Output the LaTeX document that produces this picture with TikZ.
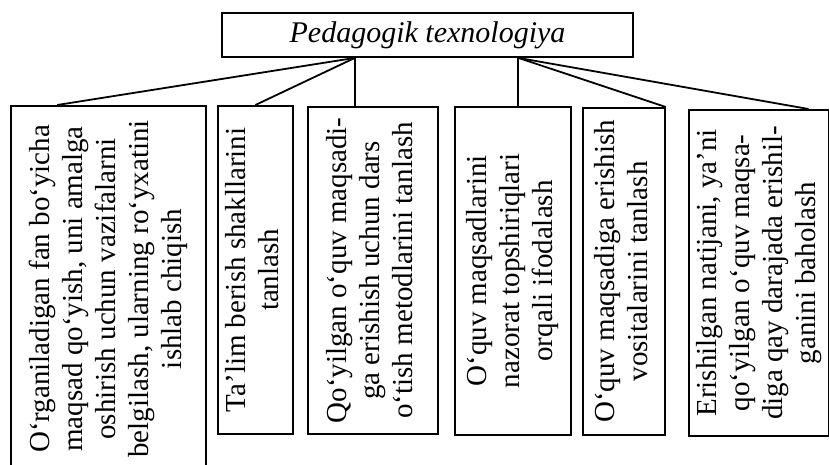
\documentclass[tikz,border=0pt]{standalone}
\usepackage{fontspec}
\setmainfont{Liberation Serif}
\usetikzlibrary{calc}

\newcommand{\vlines}[1]{\rotatebox{90}{\begin{tabular}{@{}c@{}}#1\end{tabular}}}

\begin{document}
\begin{tikzpicture}[
    x=1pt, y=-1pt,
    every node/.style={font=\fontsize{29}{33}\selectfont},
    title/.style={rectangle, draw, line width=1.8pt, minimum width=411pt, minimum height=44pt, inner sep=0pt, font=\fontsize{30}{34}\selectfont\itshape},
    stage/.style={rectangle, draw, line width=1.8pt, inner sep=0pt, anchor=north west},
    link/.style={line width=1.8pt},
]
\useasboundingbox (0,0) rectangle (829,464);

% Top
\node[title] (ped) at (427.5,35) {Pedagogik texnologiya};
\coordinate (lhub) at ($(ped.south west)!0.324!(ped.south east)$);
\coordinate (rhub) at ($(ped.south west)!0.72!(ped.south east)$);

% Bottom row
\node[stage, minimum width=195pt, minimum height=366pt] (maqsad) at (10,105) {\vlines{O‘rganiladigan fan bo‘yicha\\maqsad qo‘yish, uni amalga\\oshirish uchun vazifalarni\\belgilash, ularning ro‘yxatini\\ishlab chiqish}};
\node[stage, minimum width=75pt, minimum height=328pt] (shakl) at (217,105) {\vlines{Ta’lim berish shakllarini\\tanlash}};
\node[stage, minimum width=130pt, minimum height=327pt] (metod) at (307,106) {\vlines{Qo‘yilgan o‘quv maqsadi-\\ga erishish uchun dars\\o‘tish metodlarini tanlash}};
\node[stage, minimum width=116pt, minimum height=328pt] (nazorat) at (454,106) {\vlines{O‘quv maqsadlarini\\nazorat topshiriqlari\\orqali ifodalash}};
\node[stage, minimum width=82pt, minimum height=327pt] (vosita) at (582,107) {\vlines{O‘quv maqsadiga erishish\\vositalarini tanlash}};
\node[stage, minimum width=140pt, minimum height=326pt] (baho) at (688,109) {\vlines{Erishilgan natijani, ya’ni\\qo‘yilgan o‘quv maqsa-\\diga qay darajada erishil-\\ganini baholash}};

% Links
\draw[link] (lhub) -- ($(maqsad.north west)!0.24!(maqsad.north east)$);
\draw[link] (lhub) -- (shakl.north);
\draw[link] (lhub) -- (lhub |- metod.north);
\draw[link] (rhub) -- (rhub |- nazorat.north);
\draw[link] (rhub) -- (vosita.north east);
\draw[link] (rhub) -- ($(baho.north west)!0.85!(baho.north east)$);

\end{tikzpicture}
\end{document}
